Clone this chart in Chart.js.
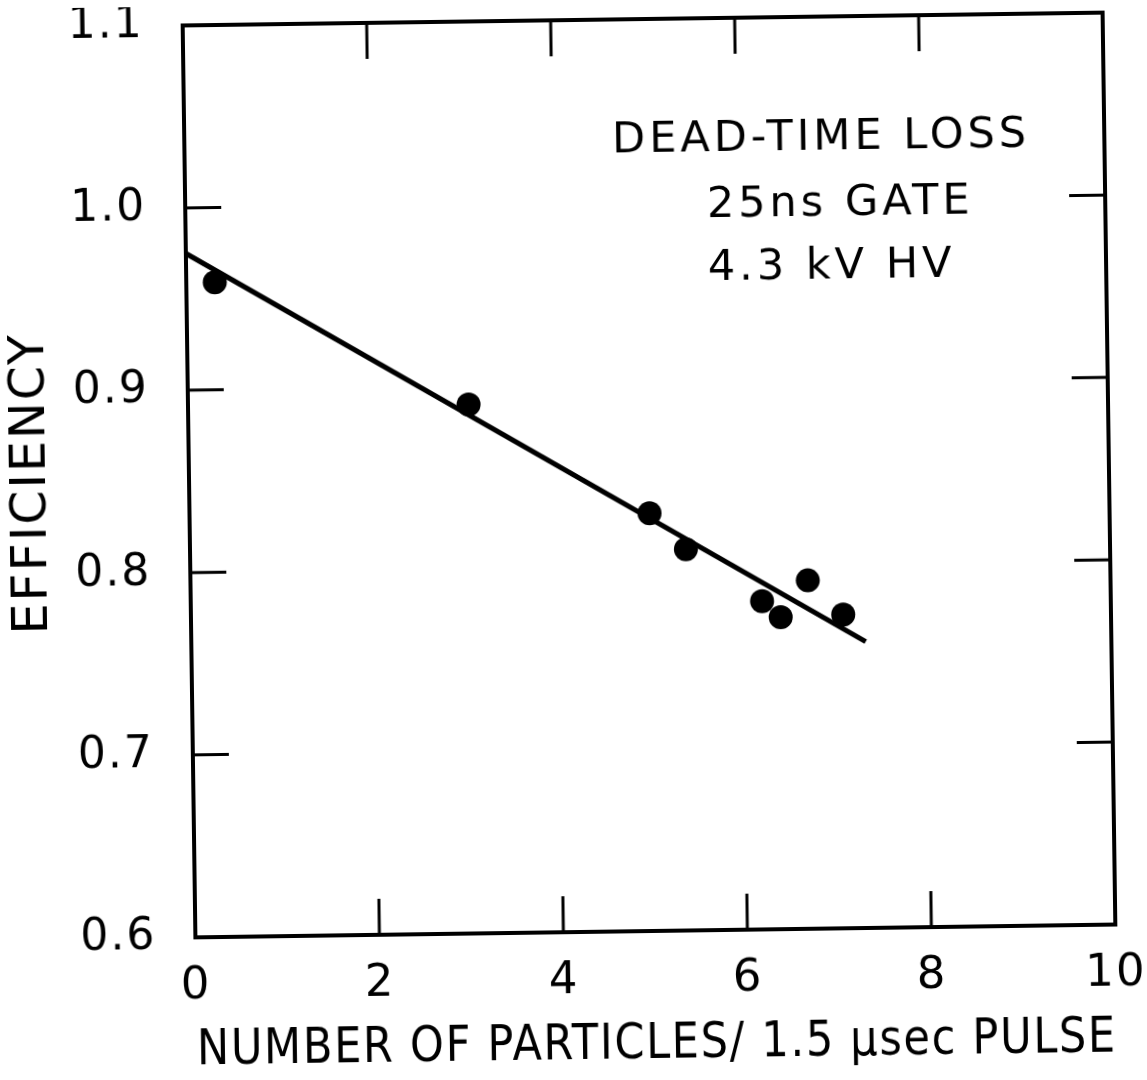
<!DOCTYPE html>
<html>
<head>
<meta charset="utf-8">
<title>Dead-time loss</title>
<script src="https://cdn.jsdelivr.net/npm/chart.js@4.4.0/dist/chart.umd.min.js"></script>
<style>
  body { margin: 0; background: #fff; overflow: hidden; }
  /* the original figure is a scan, sitting a little off square */
  canvas { display: block; transform-origin: 649px 475px; transform: rotate(-0.8deg); }
</style>
</head>
<body>
<canvas id="effChart" width="1147" height="1080"></canvas>
<script>
const particles = [0.31, 3.05, 5.0, 5.39, 6.21, 6.41, 6.71, 7.09];
const efficiency = [0.959, 0.890, 0.829, 0.809, 0.780, 0.771, 0.791, 0.772];

// straight-line fit drawn through them
const fitX = [0, 7.33];
const fitY = [0.975, 0.757];

const xTicks = [0, 2, 4, 6, 8, 10];
const yTicks = [0.6, 0.7, 0.8, 0.9, 1.0, 1.1];

// text block inside the frame: [text, x, y]
const notes = [
    ['DEAD-TIME LOSS', 4.65, 1.033],
    ['25ns GATE', 5.67, 0.997],
    ['4.3 kV HV', 5.67, 0.9625]
];

const FONT = "'DejaVu Sans', sans-serif";

// frame with inward ticks on all four sides + the text block
const framePlugin = {
    id: 'frameTicks',
    beforeDraw(chart) {
        // the hand lettering is wider than DejaVu
        chart.ctx.letterSpacing = '2px';
    },
    afterDatasetsDraw(chart) {
        const ctx = chart.ctx;
        const a = chart.chartArea;
        const xs = chart.scales.x, ys = chart.scales.y;
        const tl = 36;
        ctx.save();
        ctx.strokeStyle = '#000';
        ctx.lineWidth = 4;
        ctx.strokeRect(a.left, a.top, a.right - a.left, a.bottom - a.top);
        ctx.lineWidth = 3;
        ctx.beginPath();
        xTicks.slice(1, -1).forEach(v => {
            const px = xs.getPixelForValue(v);
            ctx.moveTo(px, a.bottom); ctx.lineTo(px, a.bottom - tl);
            ctx.moveTo(px, a.top); ctx.lineTo(px, a.top + tl);
        });
        yTicks.slice(1, -1).forEach(v => {
            const py = ys.getPixelForValue(v);
            ctx.moveTo(a.left, py); ctx.lineTo(a.left + tl, py);
            ctx.moveTo(a.right, py); ctx.lineTo(a.right - tl, py);
        });
        ctx.stroke();

        ctx.fillStyle = '#000';
        ctx.font = '43px ' + FONT;
        ctx.letterSpacing = '4px';
        ctx.textAlign = 'left';
        ctx.textBaseline = 'middle';
        notes.forEach(n => {
            ctx.fillText(n[0], xs.getPixelForValue(n[1]), ys.getPixelForValue(n[2]));
        });
        ctx.restore();
    },
    afterDraw(chart) {
        chart.ctx.letterSpacing = '0px';
    }
};

function noPad(s) {
    s.paddingTop = 0;
    s.paddingBottom = 0;
    s.paddingLeft = 0;
    s.paddingRight = 0;
}

const ctx = document.getElementById('effChart').getContext('2d');
const chart = new Chart(ctx, {
    type: 'scatter',
    data: {
        datasets: [
            {
                label: 'fit',
                data: fitX.map((x, i) => ({ x: x, y: fitY[i] })),
                showLine: true,
                borderColor: '#000',
                borderWidth: 5,
                pointRadius: 0,
                fill: false
            },
            {
                label: 'efficiency',
                data: particles.map((x, i) => ({ x: x, y: efficiency[i] })),
                backgroundColor: '#000',
                borderColor: '#000',
                pointRadius: 12,
                borderWidth: 0
            }
        ]
    },
    options: {
        responsive: false,
        animation: false,
        devicePixelRatio: 1,
        layout: { padding: { top: 19, right: 38, left: 0, bottom: 0 } },
        plugins: {
            legend: { display: false },
            tooltip: { enabled: false }
        },
        scales: {
            x: {
                type: 'linear',
                min: 0,
                max: 10,
                afterBuildTicks: s => { s.ticks = xTicks.map(v => ({ value: v })); },
                afterFit: s => { s.height = 149; noPad(s); },
                grid: { display: false, drawTicks: false },
                border: { display: false },
                ticks: {
                    color: '#000',
                    padding: 22,
                    font: { family: FONT, size: 45 },
                    callback: v => String(v)
                },
                title: {
                    display: true,
                    text: 'NUMBER OF PARTICLES/ 1.5 μsec PULSE',
                    color: '#000',
                    font: { family: FONT, size: 50 },
                    padding: { top: 0, bottom: 5 }
                }
            },
            y: {
                type: 'linear',
                min: 0.6,
                max: 1.1,
                afterBuildTicks: s => { s.ticks = yTicks.map(v => ({ value: v })); },
                afterFit: s => { s.width = 189; noPad(s); },
                grid: { display: false, drawTicks: false },
                border: { display: false },
                ticks: {
                    color: '#000',
                    padding: 39,
                    font: { family: FONT, size: 44 },
                    callback: v => v.toFixed(1)
                },
                title: {
                    display: true,
                    text: 'EFFICIENCY',
                    color: '#000',
                    font: { family: FONT, size: 49 },
                    padding: { top: 3, bottom: 0 }
                }
            }
        }
    },
    plugins: [framePlugin]
});
</script>
</body>
</html>
